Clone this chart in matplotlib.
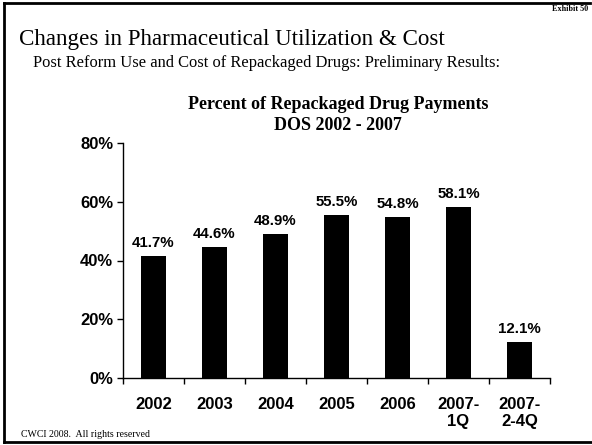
import matplotlib.pyplot as plt
from matplotlib.lines import Line2D

# data
categories = ['2002', '2003', '2004', '2005', '2006', '2007-\n1Q', '2007-\n2-4Q']
values = [41.7, 44.6, 48.9, 55.5, 54.8, 58.1, 12.1]
yticks = [0, 20, 40, 60, 80]

W, H = 592, 445
fig = plt.figure(figsize=(W / 100, H / 100), dpi=100)

# slide frame (left, top, bottom)
for xs, ys in [([4, 4], [3, 442]), ([4, 590], [3, 3]), ([4, 592], [442, 442])]:
    fig.add_artist(Line2D([x / W for x in xs], [1 - y / H for y in ys],
                          color='black', lw=2, transform=fig.transFigure))

serif = 'Liberation Serif'
sans = 'Liberation Sans'

fig.text(588 / W, 1 - 9 / H, 'Exhibit 50', family=serif, weight='bold',
         fontsize=5.9, ha='right', va='center')
fig.text(19 / W, 1 - 44.5 / H, 'Changes in Pharmaceutical Utilization & Cost',
         family=serif, fontsize=16.6, ha='left', va='baseline')
fig.text(33 / W, 1 - 67 / H, 'Post Reform Use and Cost of Repackaged Drugs: Preliminary Results:',
         family=serif, fontsize=11.9, ha='left', va='baseline')
fig.text(21 / W, 1 - 437 / H, 'CWCI 2008.  All rights reserved',
         family=serif, fontsize=7.1, ha='left', va='baseline')
fig.text(338 / W, 1 - 115 / H, 'Percent of Repackaged Drug Payments\nDOS 2002 - 2007',
         family=serif, weight='bold', fontsize=13, ha='center', va='center',
         linespacing=1.35)

# axes: x from 123 to 550 px, y 0% at 378 px, 80% at 143 px
ax = fig.add_axes([123 / W, 1 - 378 / H, (550 - 123) / W, (378 - 143) / H])
x = list(range(len(categories)))
ax.bar(x, values, width=0.42, color='black')
ax.set_xlim(-0.5, len(categories) - 0.5)
ax.set_ylim(0, 80)

for xi, v in zip(x, values):
    ax.annotate(f'{v:.1f}%', (xi, v), xytext=(0, 13), textcoords='offset pixels',
                ha='center', va='center', family=sans, weight='bold', fontsize=10.8)

ax.set_yticks(yticks)
ax.set_yticklabels([f'{t}%' for t in yticks], family=sans, weight='bold', fontsize=12)
ax.set_xticks(x)
ax.set_xticklabels(categories, family=sans, weight='bold', fontsize=12,
                   linespacing=1.15, ha='center', va='top')
ax.set_xticks([i - 0.5 for i in range(len(categories) + 1)], minor=True)
ax.tick_params(axis='x', which='major', length=0, pad=14)
ax.tick_params(axis='x', which='minor', length=4, width=1, direction='out')
ax.tick_params(axis='y', length=4, width=1, direction='out', pad=3)

for s in ['top', 'right']:
    ax.spines[s].set_visible(False)
ax.spines['left'].set_linewidth(1)
ax.spines['bottom'].set_linewidth(1)

fig.savefig('out.png', dpi=100)
